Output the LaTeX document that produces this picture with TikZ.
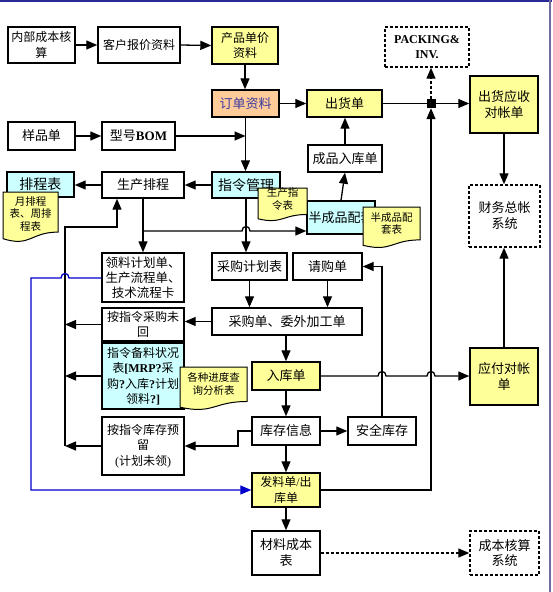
\documentclass[tikz,border=0pt]{standalone}
\usepackage{fontspec}
\setmainfont{Noto Sans CJK SC}
\newfontfamily\lat{Liberation Serif}
\usetikzlibrary{arrows.meta}
\definecolor{yel}{RGB}{255,255,153}
\definecolor{cya}{RGB}{204,255,255}
\definecolor{pea}{RGB}{255,204,153}
\definecolor{bluetxt}{RGB}{60,60,160}
\definecolor{bline}{RGB}{0,0,204}
\definecolor{frametop}{RGB}{40,40,150}
\definecolor{frameright}{RGB}{110,110,160}
\tikzset{
 box/.style={draw=black, line width=1.4pt, fill=white, align=center, inner sep=1pt, font=\fontsize{13}{16}\selectfont, text=black},
 sm/.style={font=\fontsize{12}{15.5}\selectfont},
 big/.style={font=\fontsize{14}{16}\selectfont},
 yelbox/.style={box, fill=yel},
 cyabox/.style={box, fill=cya},
 dbox/.style={box, dash pattern=on 3pt off 2pt},
 conn/.style={line width=1.3pt, draw=black},
 arr/.style={conn, -{Triangle[length=11pt,width=9pt]}},
 dasharr/.style={arr, dash pattern=on 3pt off 2pt},
 docst/.style={draw=black, line width=1pt, fill=yel},
 doctext/.style={align=center, inner sep=0pt, font=\fontsize{10.5}{12.5}\selectfont},
}
\newcommand{\docu}[7]{%
  \pgfmathsetmacro\dxm{(#2+#4)/2}%
  \pgfmathsetmacro\dya{#3+0.802*#5}%
  \pgfmathsetmacro\dyb{#3+1.107*#5}%
  \pgfmathsetmacro\dyc{#3+0.934*#5}%
  \draw[docst] (#2,#3) -- (#4,#3) -- (#4,\dya) .. controls (\dxm,\dya) and (\dxm,\dyb) .. (#2,\dyc) -- cycle;
  \node[doctext] (#1) at (\dxm,#6) {#7};
}
\begin{document}
\begin{tikzpicture}[x=1pt,y=-1pt]
\useasboundingbox (0,0) rectangle (552,592);
\draw[frametop, line width=2pt] (0,1) -- (552,1);
\draw[frameright, line width=1.2pt] (550,0) -- (550,592);

% boxes
\node[box, sm, minimum width=67pt, minimum height=36pt] (nbcb) at (41.5,45) {内部成本核\\算};
\node[box, sm, minimum width=82pt, minimum height=36pt] (khbj) at (139,45) {客户报价资料};
\node[yelbox, sm, minimum width=66pt, minimum height=37pt] (cpdj) at (245,45.5) {产品单价\\资料};
\node[box, fill=pea, text=bluetxt, minimum width=67pt, minimum height=27pt] (ddzl) at (245.5,103.5) {订单资料};
\node[box, minimum width=67pt, minimum height=28pt] (ypd) at (41.5,136) {样品单};
\node[box, minimum width=73pt, minimum height=28pt] (xhbom) at (138.5,136) {型号{\lat\bfseries BOM}};
\node[yelbox, minimum width=75pt, minimum height=27pt] (chd) at (344.5,103.5) {出货单};
\node[dbox, font=\lat\bfseries\fontsize{12}{15}\selectfont, minimum width=84pt, minimum height=40pt] (packing) at (427,47) {PACKING\&\\INV.};
\node[yelbox, minimum width=68pt, minimum height=57pt] (chys) at (504,104.5) {出货应收\\对帐单};
\node[box, minimum width=74pt, minimum height=27pt] (cprk) at (345,158.5) {成品入库单};
\node[cyabox, big, minimum width=68pt, minimum height=26pt] (zlgl) at (246,185) {指令管理};
\node[cyabox, minimum width=68pt, minimum height=33pt] (bcp) at (341,217.5) {半成品配套};
\node[dbox, minimum width=71pt, minimum height=62pt] (cwzz) at (504.5,216) {财务总帐\\系统};
\node[cyabox, big, minimum width=67pt, minimum height=25pt] (pcb) at (40.5,184.5) {排程表};
\node[box, minimum width=82pt, minimum height=26pt] (scpc) at (143,185) {生产排程};
\node[box, font=\fontsize{12.5}{15}\selectfont, minimum width=82pt, minimum height=49pt] (lljh) at (143,277.5) {领料计划单、\\生产流程单、\\技术流程卡};
\node[box, minimum width=75pt, minimum height=27pt] (cgjh) at (249.5,266.5) {采购计划表};
\node[box, minimum width=69pt, minimum height=27pt] (qgd) at (327.5,266.5) {请购单};
\node[box, minimum width=150pt, minimum height=27pt] (cgd) at (287,321.5) {采购单、委外加工单};
\node[box, sm, minimum width=82pt, minimum height=33pt] (azwh) at (143,324.5) {按指令采购未\\回};
\node[cyabox, sm, minimum width=82pt, minimum height=66pt] (zlbl) at (143,376) {指令备料状况\\表{\lat\bfseries [MRP?}采\\购{\lat\bfseries ?}入库{\lat\bfseries ?}计划\\领料{\lat\bfseries ?]}};
\node[yelbox, minimum width=68pt, minimum height=28pt] (rkd) at (286,376) {入库单};
\node[yelbox, minimum width=68pt, minimum height=57pt] (yfdz) at (504,376.5) {应付对帐\\单};
\node[box, minimum width=68pt, minimum height=28pt] (kcxx) at (286,431) {库存信息};
\node[box, minimum width=68pt, minimum height=28pt] (aqkc) at (382,431) {安全库存};
\node[box, sm, minimum width=82pt, minimum height=58pt] (azky) at (143,446) {按指令库存预\\留\\{\lat (}计划未领{\lat )}};
\node[yelbox, sm, minimum width=68pt, minimum height=34pt] (fld) at (286,490) {发料单{\lat /}出\\库单};
\node[box, minimum width=68pt, minimum height=44pt] (clcb) at (286,553) {材料成本\\表};
\node[dbox, minimum width=69pt, minimum height=44pt] (cbhs) at (504.5,553) {成本核算\\系统};

% documents
\docu{dpc}{3}{192}{58}{50}{214}{月排程\\表、周排\\程表}
\docu{dsc}{258}{188}{307}{33}{199}{生产指\\令表}
\docu{dbc}{363}{207}{420}{41}{223.5}{半成品配\\套表}
\docu{dgz}{180}{367}{247}{43}{384}{各种进度查\\询分析表}

% junction
\node[fill=black, minimum size=9pt, inner sep=0pt] (jn) at (431,103.5) {};

% named bend points
\coordinate (c1) at (fld.east -| jn);
\coordinate (c2) at (aqkc.north |- qgd.east);
\coordinate (c3) at (238,431);
\coordinate (c4) at (238,446);
\coordinate (l1) at (65,446);
\coordinate (l2) at (65,227);
\coordinate (l3) at (117,227);
\coordinate (br1) at (143,231);
\coordinate (b1) at (31,278);
\coordinate (b2) at (31,490);

% connectors
\draw[arr] (nbcb.east) -- (khbj.west);
\draw[arr] (khbj.east) -- (cpdj.west);
\draw[arr] (cpdj.south) -- (cpdj.south |- ddzl.north);
\draw[arr] (ddzl.east) -- (chd.west);
\draw[arr] (ddzl.south) -- (ddzl.south |- zlgl.north);
\draw[arr] (ypd.east) -- (xhbom.west);
\draw[arr] (xhbom.east) -- (xhbom.east -| ddzl.south);
\draw[conn] (chd.east) -- (jn.center);
\draw[arr] (jn.center) -- (chys.west |- jn.center);
\draw[dasharr] (jn.north) -- (jn.north |- packing.south);
\draw[arr] (fld.east) -- (c1) -- (jn.south);
\draw[arr] (chys.south) -- (chys.south |- cwzz.north);
\draw[arr] (yfdz.north) -- (yfdz.north |- cwzz.south);
\draw[arr] (cprk.north) -- (cprk.north |- chd.south);
\draw[arr] (bcp.north) -- (cprk.south);
\draw[arr] (zlgl.west) -- (scpc.east);
\draw[arr] (scpc.west) -- (scpc.west -| pcb.east);
\draw[arr] (scpc.south) -- (lljh.north);
\draw[arr] (br1) -- (242,231) .. controls (242,225) and (250,225) .. (250,231) -- (bcp.west |- br1);
\draw[arr] (zlgl.south) -- (zlgl.south |- cgjh.north);
\draw[arr] (cgjh.south) -- (cgjh.south |- cgd.north);
\draw[arr] (qgd.south) -- (qgd.south |- cgd.north);
\draw[arr] (cgd.west) -- (cgd.west -| azwh.east);
\draw[arr] (rkd.north |- cgd.south) -- (rkd.north);
\draw[arr] (rkd.south) -- (kcxx.north);
\draw[arr] (kcxx.south) -- (fld.north);
\draw[arr] (fld.south) -- (clcb.north);
\draw[dasharr] (clcb.east) -- (cbhs.west);
\draw[arr] (kcxx.east) -- (aqkc.west);
\draw[arr] (aqkc.north) -- (c2) -- (qgd.east);
\draw[arr] (kcxx.west) -- (c3) -- (c4) -- (azky.east);
\draw[arr] (rkd.east) -- (378,376) .. controls (378,370) and (386,370) .. (386,376) -- (427,376) .. controls (427,370) and (435,370) .. (435,376) -- (yfdz.west |- rkd.east);
\draw[arr] (l1) -- (l2) -- (l3) -- (l3 |- scpc.south);
\draw[arr] (azwh.west) -- (azwh.west -| l1);
\draw[arr] (zlbl.west) -- (zlbl.west -| l1);
\draw[arr] (azky.west) -- (azky.west -| l1);
\draw[arr, draw=bline] (lljh.west |- b1) -- (69,278) .. controls (69,272) and (61,272) .. (61,278) -- (b1) -- (b2) -- (fld.west |- b2);
\end{tikzpicture}
\end{document}
